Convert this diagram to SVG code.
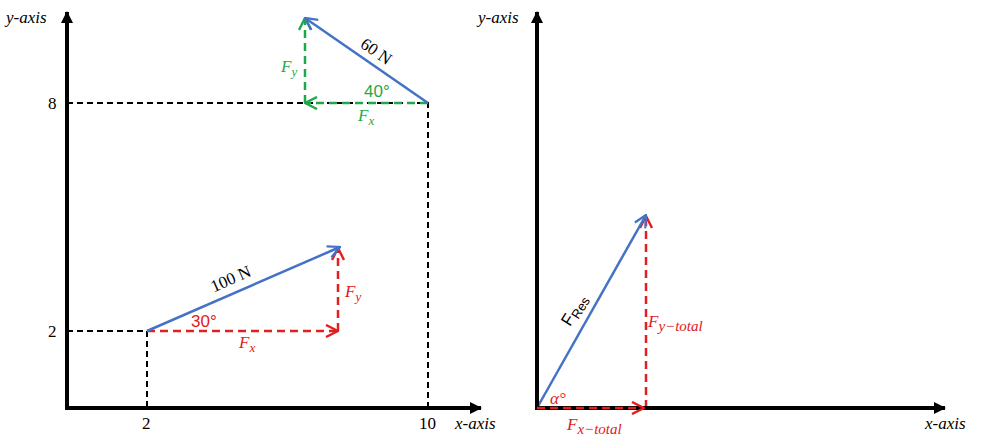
<svg xmlns="http://www.w3.org/2000/svg" width="986" height="448" viewBox="0 0 986 448" font-family="'Liberation Serif', serif">
<style>
.axis{stroke:#000;stroke-width:4;fill:none}
.guide{stroke:#000;stroke-width:2;stroke-dasharray:6 4;fill:none}
.vec{stroke:#4472C4;stroke-width:2.5;fill:none}
.red{stroke:#E02020;stroke-width:2.5;stroke-dasharray:8 5;fill:none}
.grn{stroke:#1FA84A;stroke-width:2.5;stroke-dasharray:8 5;fill:none}
.lbl{font-style:italic;font-size:17px;fill:#000}
.num{font-size:17px;fill:#000}
.math{font-style:italic;font-size:17px}
.ang{font-family:'Liberation Sans',sans-serif;font-size:17px}
</style>
<defs>
<marker id="ah" viewBox="0 0 12 12" refX="11" refY="6" markerWidth="12" markerHeight="12" markerUnits="userSpaceOnUse" orient="auto"><path d="M0,0 L12,6 L0,12 z" fill="#000"/></marker>
<marker id="ab" viewBox="0 0 14 14" refX="13" refY="7" markerWidth="14" markerHeight="14" markerUnits="userSpaceOnUse" orient="auto"><path d="M1,1 L13,7 L1,13" fill="none" stroke="#4472C4" stroke-width="2.2"/></marker>
<marker id="ar" viewBox="0 0 14 14" refX="13" refY="7" markerWidth="14" markerHeight="14" markerUnits="userSpaceOnUse" orient="auto"><path d="M1,1 L13,7 L1,13" fill="none" stroke="#E02020" stroke-width="2.4"/></marker>
<marker id="ag" viewBox="0 0 14 14" refX="13" refY="7" markerWidth="14" markerHeight="14" markerUnits="userSpaceOnUse" orient="auto"><path d="M1,1 L13,7 L1,13" fill="none" stroke="#1FA84A" stroke-width="2.4"/></marker>
</defs>

<g id="left-axes">
<line class="axis" x1="67" y1="410" x2="67" y2="12" marker-end="url(#ah)"/>
<line class="axis" x1="65" y1="408" x2="481" y2="408" marker-end="url(#ah)"/>
<text class="lbl" x="6" y="23">y-axis</text>
<text class="lbl" x="455" y="429">x-axis</text>
<text class="num" x="48" y="109">8</text>
<text class="num" x="48" y="337">2</text>
<text class="num" x="142" y="429">2</text>
<text class="num" x="419" y="429">10</text>
</g>

<g id="connectors">
<path class="guide" d="M67,103 H428 V408"/>
<path class="guide" d="M67,331 H147 V408"/>
<line class="red" x1="147" y1="331" x2="338" y2="331" marker-end="url(#ar)"/>
<line class="red" x1="338" y1="331" x2="338" y2="248" marker-end="url(#ar)"/>
<line class="vec" x1="147" y1="331" x2="340" y2="247" marker-end="url(#ab)"/>
<line class="grn" x1="428" y1="103" x2="305" y2="103" marker-end="url(#ag)"/>
<line class="grn" x1="305" y1="103" x2="305" y2="18" marker-end="url(#ag)"/>
<line class="vec" x1="428" y1="103" x2="305" y2="18" marker-end="url(#ab)"/>
<line class="red" x1="646" y1="408" x2="646" y2="216" marker-end="url(#ar)"/>
<line class="vec" x1="537" y1="408" x2="646" y2="215" marker-end="url(#ab)"/>
</g>

<g id="force-100N">
<text class="num" transform="translate(233,284) rotate(-23.5)" text-anchor="middle">100 N</text>
<text class="ang" x="191" y="327" fill="#E02020">30°</text>
<text class="math" x="239" y="348" fill="#E02020">F<tspan font-size="13" dy="4">x</tspan></text>
<text class="math" x="345" y="297" fill="#E02020">F<tspan font-size="13" dy="4">y</tspan></text>
</g>

<g id="force-60N">
<text class="num" transform="translate(373,56) rotate(34.6)" text-anchor="middle">60 N</text>
<text class="ang" x="364" y="97" fill="#1FA84A">40°</text>
<text class="math" x="358" y="121" fill="#1FA84A">F<tspan font-size="13" dy="4">x</tspan></text>
<text class="math" x="281" y="72" fill="#1FA84A">F<tspan font-size="13" dy="4">y</tspan></text>
</g>

<g id="right-axes">
<line class="axis" x1="537" y1="410" x2="537" y2="12" marker-end="url(#ah)"/>
<line class="axis" x1="535" y1="408" x2="945" y2="408" marker-end="url(#ah)"/>
<text class="lbl" x="478" y="23">y-axis</text>
<text class="lbl" x="925" y="429">x-axis</text>
</g>

<g id="resultant">
<line class="red" x1="537" y1="408" x2="644" y2="408" marker-end="url(#ar)"/>
<text class="ang" transform="translate(579,313) rotate(-58)" text-anchor="middle" fill="#000" font-size="18">F<tspan font-size="13" dy="3">Res</tspan></text>
<text class="math" x="550" y="404" fill="#E02020" font-size="16">α°</text>
<text class="math" x="567" y="430" fill="#E02020">F<tspan font-size="15" dy="4">x−total</tspan></text>
<text class="math" x="648" y="327" fill="#E02020">F<tspan font-size="15" dy="4">y−total</tspan></text>
</g>
</svg>
